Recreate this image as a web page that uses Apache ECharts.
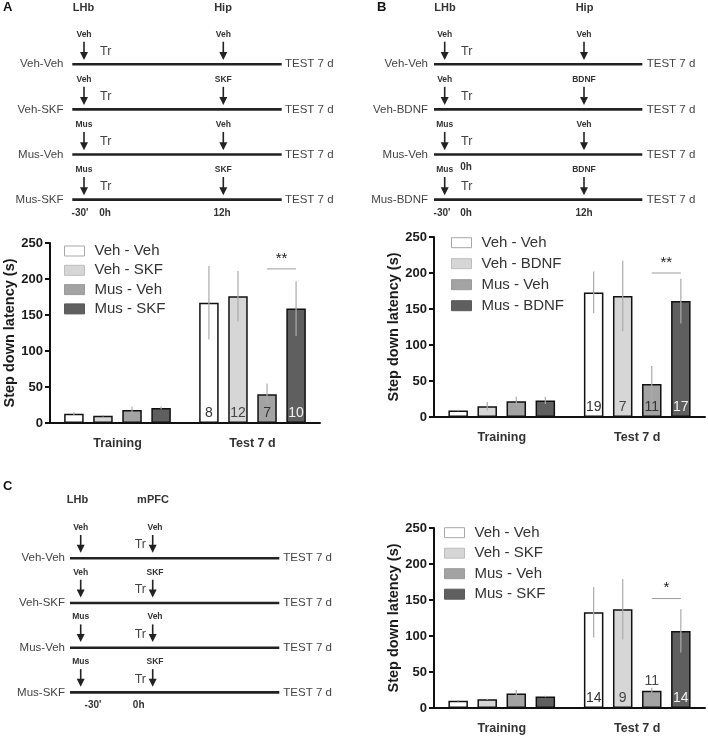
<!DOCTYPE html>
<html>
<head>
<meta charset="utf-8">
<script src="https://cdn.jsdelivr.net/npm/echarts@6/dist/echarts.min.js"></script>
<style>html,body{margin:0;padding:0;background:#fff}#c{width:708px;height:741px}</style>
</head>
<body>
<div id="c"></div>
<script>
// ---------------- DATA ----------------
const categories = ['Training', 'Test 7 d'];
const groupsA = ['Veh - Veh', 'Veh - SKF', 'Mus - Veh', 'Mus - SKF'];
const groupsB = ['Veh - Veh', 'Veh - BDNF', 'Mus - Veh', 'Mus - BDNF'];
const groupsC = ['Veh - Veh', 'Veh - SKF', 'Mus - Veh', 'Mus - SKF'];
const yTicks = [0, 50, 100, 150, 200, 250];

// means per group: [Training, Test 7 d]
const meansA = [[13, 167], [10, 176], [18, 40], [21, 159]];
const errA   = [[2, 51], [1, 35], [5, 15], [2, 38]];
const nA     = [8, 12, 7, 10];
const sigA   = [1, 214, 2, 3];   // category, level, from group, to group
const sigTextA = '**';

const meansB = [[9, 173], [15, 168], [22, 46], [23, 161]];
const errB   = [[1, 29], [6, 49], [6, 25], [5, 31]];
const nB     = [19, 7, 11, 17];
const sigB   = [1, 200, 2, 3];
const sigTextB = '**';

const meansC = [[10, 133], [12, 137], [20, 24], [16, 107]];
const errC   = [[1, 35], [1, 42], [5, 4], [1, 30]];
const nC     = [14, 9, 11, 14];
const sigC   = [1, 152, 2, 3];
const sigTextC = '*';

// schematic texts
const rowsA = ['Veh-Veh', 'Veh-SKF', 'Mus-Veh', 'Mus-SKF'];
const lhbA  = ['Veh', 'Veh', 'Mus', 'Mus'];
const tgtA  = ['Veh', 'SKF', 'Veh', 'SKF'];
const rowsB = ['Veh-Veh', 'Veh-BDNF', 'Mus-Veh', 'Mus-BDNF'];
const lhbB  = ['Veh', 'Veh', 'Mus', 'Mus'];
const tgtB  = ['Veh', 'BDNF', 'Veh', 'BDNF'];
const rowsC = ['Veh-Veh', 'Veh-SKF', 'Mus-Veh', 'Mus-SKF'];
const lhbC  = ['Veh', 'Veh', 'Mus', 'Mus'];
const tgtC  = ['Veh', 'SKF', 'Veh', 'SKF'];

// ---------------- STYLE ----------------
const FONT = 'Liberation Sans, Arial, Helvetica, sans-serif';
const barColors = ['#ffffff', '#d6d6d6', '#a3a3a3', '#5f5f5f'];
const legBorders = ['#a8a8a8', '#bdbdbd', '#9a9a9a', '#5a5a5a'];
const labelColors = ['#333', '#444', '#333', '#f2f2f2'];
const BAR_W = 19.5, GAP_RATIO = 0.49;
const SPACING = BAR_W * (1 + GAP_RATIO);

const grids = [
  {left: 50, top: 243, width: 270, height: 180},
  {left: 434, top: 237, width: 271, height: 180},
  {left: 434, top: 528, width: 271, height: 180}
];

function xAxisFor(i) {
  return {
    type: 'category', gridIndex: i, data: categories,
    axisLine: {lineStyle: {color: '#111', width: 2}},
    axisTick: {show: false},
    axisLabel: {fontWeight: 'bold', fontSize: 12.5, color: '#333', margin: 14, fontFamily: FONT}
  };
}
function yAxisFor(i) {
  return {
    type: 'value', gridIndex: i, min: 0, max: 250, interval: 50,
    name: 'Step down latency (s)', nameLocation: 'middle', nameGap: 33,
    nameTextStyle: {fontWeight: 'bold', fontSize: 14.5, color: '#1a1a1a', fontFamily: FONT},
    axisLine: {show: true, lineStyle: {color: '#111', width: 2}},
    axisTick: {show: true, length: 5, lineStyle: {color: '#111', width: 2}},
    splitLine: {show: false},
    axisLabel: {fontWeight: 'bold', fontSize: 13, color: '#1a1a1a', margin: 7, fontFamily: FONT,
      formatter: v => yTicks.indexOf(v) >= 0 ? String(v) : ''}
  };
}

function barSeries(panel, names, means, ns, aboveIdx) {
  return names.map((name, s) => ({
    type: 'bar', name: name, xAxisIndex: panel, yAxisIndex: panel,
    barWidth: BAR_W, barGap: (GAP_RATIO * 100) + '%', z: 2,
    itemStyle: {color: barColors[s], borderColor: '#111', borderWidth: 1.5},
    label: {show: false},
    data: [
      means[s][0],
      {value: means[s][1], label: {
        show: true, formatter: String(ns[s]),
        position: (aboveIdx === s) ? 'top' : 'insideBottom',
        distance: 3,
        fontSize: 14, color: (aboveIdx === s) ? '#444' : labelColors[s], fontFamily: FONT
      }}
    ]
  }));
}

function errSeries(panel, means, errs) {
  const data = [];
  means.forEach((row, s) => row.forEach((m, c) => data.push([c, m, errs[s][c], s])));
  return {
    type: 'custom', xAxisIndex: panel, yAxisIndex: panel, z: 3, silent: true,
    encode: {x: 0, y: 1},
    data: data,
    renderItem: function (params, api) {
      const c = api.value(0), m = api.value(1), e = api.value(2), s = api.value(3);
      const x = api.coord([c, m])[0] + (s - 1.5) * SPACING;
      const yTop = api.coord([c, m + e])[1];
      const yBot = api.coord([c, Math.max(0, m - e)])[1];
      return {type: 'line', shape: {x1: x, y1: yBot, x2: x, y2: yTop},
        style: {stroke: '#ababab', lineWidth: 1.2}};
    }
  };
}

function sigSeries(panel, sig, txt) {
  return {
    type: 'custom', xAxisIndex: panel, yAxisIndex: panel, z: 4, silent: true,
    encode: {x: 0, y: 1},
    data: [sig],
    renderItem: function (params, api) {
      const c = api.value(0), lv = api.value(1), a = api.value(2), b = api.value(3);
      const p = api.coord([c, lv]);
      const xa = p[0] + (a - 1.5) * SPACING, xb = p[0] + (b - 1.5) * SPACING;
      return {type: 'group', children: [
        {type: 'line', shape: {x1: xa, y1: p[1], x2: xb, y2: p[1]}, style: {stroke: '#9a9a9a', lineWidth: 1}},
        {type: 'text', style: {text: txt, x: (xa + xb) / 2, y: p[1] - 3, align: 'center', verticalAlign: 'bottom',
          fontSize: 15, fontFamily: FONT, fill: '#222'}}
      ]};
    }
  };
}

function legendFor(names, left, top, gap) {
  return {
    orient: 'vertical', left: left, top: top, padding: 0, itemWidth: 20, itemHeight: 10, itemGap: gap,
    selectedMode: false, icon: 'rect',
    textStyle: {fontSize: 15, color: '#333', lineHeight: 15, fontFamily: FONT, padding: [0, 0, 0, 5]},
    data: names.map((n, i) => ({name: n, itemStyle: {color: barColors[i], borderColor: legBorders[i], borderWidth: 1}}))
  };
}

// ---------------- SCHEMATICS ----------------
function txt(t, x, y, size, bold, align, color) {
  return {type: 'text', silent: true, style: {text: t, x: x, y: y, fontSize: size, fontWeight: bold ? 'bold' : 'normal',
    fontFamily: FONT, fill: color || '#333', align: align || 'left', verticalAlign: 'middle'}};
}
function arrow(x, y0, y1) {
  return [
    {type: 'line', silent: true, shape: {x1: x, y1: y0, x2: x, y2: y1 - 6}, style: {stroke: '#222', lineWidth: 1.6}},
    {type: 'polygon', silent: true, shape: {points: [[x - 4, y1 - 8], [x + 4, y1 - 8], [x, y1]]}, style: {fill: '#222'}}
  ];
}
function schematic(cfg) {
  const els = [];
  els.push(txt(cfg.letter, cfg.letterX, cfg.letterY, 13, true, 'left', '#111'));
  els.push(txt(cfg.h1, cfg.h1X, cfg.hY, 11, true, 'center', '#333'));
  els.push(txt(cfg.h2, cfg.h2X, cfg.hY, 11, true, 'center', '#333'));
  cfg.rows.forEach((r, i) => {
    const y = cfg.y0 + i * cfg.dy;
    els.push({type: 'line', silent: true, shape: {x1: cfg.lx0, y1: y, x2: cfg.lx1, y2: y}, style: {stroke: '#222', lineWidth: 2.6}});
    els.push(txt(r, cfg.rowX, y, 11.5, false, 'right', '#444'));
    els.push(txt('TEST 7 d', cfg.testX, y, 11.5, false, 'left', '#444'));
    els.push(txt(cfg.lhb[i], cfg.a1X, y + cfg.labOff, 8.5, true, 'center', '#333'));
    els.push(txt(cfg.tgt[i], cfg.a2X + (cfg.tgtShift || 0), y + cfg.labOff, 8.5, true, 'center', '#333'));
    arrow(cfg.a1X, y + cfg.arTop, y + cfg.arTip).forEach(e => els.push(e));
    arrow(cfg.a2X, y + cfg.arTop, y + cfg.arTip).forEach(e => els.push(e));
    els.push(txt('Tr', cfg.trX, y + cfg.trOff, 12.5, false, cfg.trAlign, '#444'));
  });
  cfg.bottom.forEach(b => els.push(txt(b[0], b[1], cfg.bY, 10, true, 'center', '#333')));
  (cfg.extra || []).forEach(b => els.push(txt(b[0], b[1], b[2], 10, true, 'center', '#333')));
  return els;
}

const graphics = []
  .concat(schematic({letter: 'A', letterX: 3, letterY: 7, h1: 'LHb', h1X: 83.5, h2: 'Hip', h2X: 223, hY: 7.7,
    rows: rowsA, lhb: lhbA, tgt: tgtA, y0: 64.3, dy: 45.1, lx0: 72.3, lx1: 281.7, rowX: 63.5, testX: 285,
    a1X: 84, a2X: 223.3, labOff: -29.6, arTop: -22.6, arTip: -4.3, trX: 100, trOff: -12.6, trAlign: 'left',
    bY: 213.3, bottom: [["-30'", 80], ['0h', 105], ['12h', 222]]}))
  .concat(schematic({letter: 'B', letterX: 377, letterY: 7, h1: 'LHb', h1X: 445, h2: 'Hip', h2X: 584.5, hY: 7.7,
    rows: rowsB, lhb: lhbB, tgt: tgtB, y0: 64.3, dy: 45.1, lx0: 434, lx1: 642.3, rowX: 428, testX: 646.7,
    a1X: 444.7, a2X: 584, labOff: -29.6, arTop: -22.6, arTip: -4.3, trX: 461, trOff: -12.6, trAlign: 'left',
    bY: 213.3, bottom: [["-30'", 442], ['0h', 466], ['12h', 584]], extra: [['0h', 466, 167]]}))
  .concat(schematic({letter: 'C', letterX: 3, letterY: 486, h1: 'LHb', h1X: 77.5, h2: 'mPFC', h2X: 153, hY: 500,
    rows: rowsC, lhb: lhbC, tgt: tgtC, y0: 558.3, dy: 44.7, lx0: 70, lx1: 279.3, rowX: 65, testX: 283.3,
    a1X: 80.7, a2X: 152.7, tgtShift: 2.3, labOff: -30.6, arTop: -23.3, arTip: -5.6, trX: 146, trOff: -13.3, trAlign: 'right',
    bY: 705.7, bottom: [["-30'", 93], ['0h', 138.7]]}));

// ---------------- CHART ----------------
const chart = echarts.init(document.getElementById('c'), null, {renderer: 'canvas'});
chart.setOption({
  backgroundColor: '#fff',
  animation: false,
  textStyle: {fontFamily: FONT},
  grid: grids,
  xAxis: [xAxisFor(0), xAxisFor(1), xAxisFor(2)],
  yAxis: [yAxisFor(0), yAxisFor(1), yAxisFor(2)],
  legend: [
    legendFor(groupsA, 64, 243.5, 4.3),
    legendFor(groupsB, 451, 235.2, 6),
    legendFor(groupsC, 444, 525.2, 5.5)
  ],
  series: []
    .concat(barSeries(0, groupsA, meansA, nA, -1))
    .concat([errSeries(0, meansA, errA), sigSeries(0, sigA, sigTextA)])
    .concat(barSeries(1, groupsB, meansB, nB, -1))
    .concat([errSeries(1, meansB, errB), sigSeries(1, sigB, sigTextB)])
    .concat(barSeries(2, groupsC, meansC, nC, 2))
    .concat([errSeries(2, meansC, errC), sigSeries(2, sigC, sigTextC)]),
  graphic: graphics
});
</script>
</body>
</html>
